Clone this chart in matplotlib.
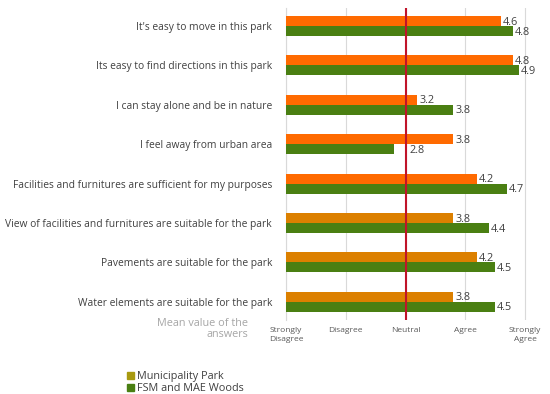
import numpy as np
import matplotlib.pyplot as plt
from matplotlib.patches import Patch

statements = ["It's easy to move in this park",
              "Its easy to find directions in this park",
              "I can stay alone and be in nature",
              "I feel away from urban area",
              "Facilities and furnitures are sufficient for my purposes",
              "View of facilities and furnitures are suitable for the park",
              "Pavements are suitable for the park",
              "Water elements are suitable for the park"]
municipality = [4.6, 4.8, 3.2, 3.8, 4.2, 3.8, 4.2, 3.8]
woods = [4.8, 4.9, 3.8, 2.8, 4.7, 4.4, 4.5, 4.5]
scale_labels = ["Strongly\nDisagree", "Disagree", "Neutral", "Agree", "Strongly\nAgree"]

orange = '#ff6a00'
orange2 = '#dc8000'
green = '#4a7f12'

plt.rcParams['font.family'] = ['Open Sans', 'DejaVu Sans']

fig = plt.figure(figsize=(5.5, 3.94), dpi=100)
ax = fig.add_axes([0.52, 0.188, 0.44, 0.792])

y = np.arange(len(statements))
h = 0.254
mcols = [orange] * 5 + [orange2] * 3
ax.barh(y - h / 2, np.array(municipality) - 1, left=1, height=h, color=mcols, zorder=3)
ax.barh(y + h / 2, np.array(woods) - 1, left=1, height=h, color=green, zorder=3)


def label_x(v):
    # keep labels clear of the neutral line
    x = v + 0.03
    if 2.6 < v < 3.0:
        x = 3.07
    return x


for i in range(len(statements)):
    ax.text(label_x(municipality[i]), y[i] - h / 2 + 0.03, f'{municipality[i]:.1f}', va='center',
            ha='left', fontsize=7.8, color='#404040', zorder=4)
    ax.text(label_x(woods[i]), y[i] + h / 2 + 0.03, f'{woods[i]:.1f}', va='center',
            ha='left', fontsize=7.8, color='#404040', zorder=4)

ax.axvline(3, color='#c0142a', lw=1.5, zorder=4)

ax.set_xlim(1, 5.05)
ax.set_ylim(len(statements) - 0.54, -0.46)
ax.set_xticks([1, 2, 3, 4, 5])
ax.set_xticklabels([])
ax.grid(axis='x', color='#d9d9d9', lw=0.8, zorder=0)
ax.tick_params(length=0)
ax.set_yticks(y)
ax.set_yticklabels(statements, fontsize=7.4, color='#404040')
ax.tick_params(axis='y', pad=10)
for s in ['top', 'right', 'bottom']:
    ax.spines[s].set_visible(False)
ax.spines['left'].set_color('#d9d9d9')

for i, lab in enumerate(scale_labels):
    ax.text(i + 1, len(statements) - 0.36, lab, ha='center', va='top', fontsize=6,
            color='#595959', linespacing=1.4)

fig.text(248 / 550, 1 - 318 / 394, 'Mean value of the\nanswers', ha='right', va='top',
         fontsize=7.8, color='#a6a6a6', linespacing=1.0)

handles = [Patch(color='#a89a10'), Patch(color=green)]
fig.legend(handles, ['Municipality Park', 'FSM and MAE Woods'], loc='upper left',
           bbox_to_anchor=(122 / 550, 1 - 366 / 394), frameon=False, fontsize=7.8,
           handlelength=0.6, handleheight=0.6, handletextpad=0.3, labelspacing=0.05,
           borderpad=0, labelcolor='#404040')

fig.savefig('out.png', dpi=100)
